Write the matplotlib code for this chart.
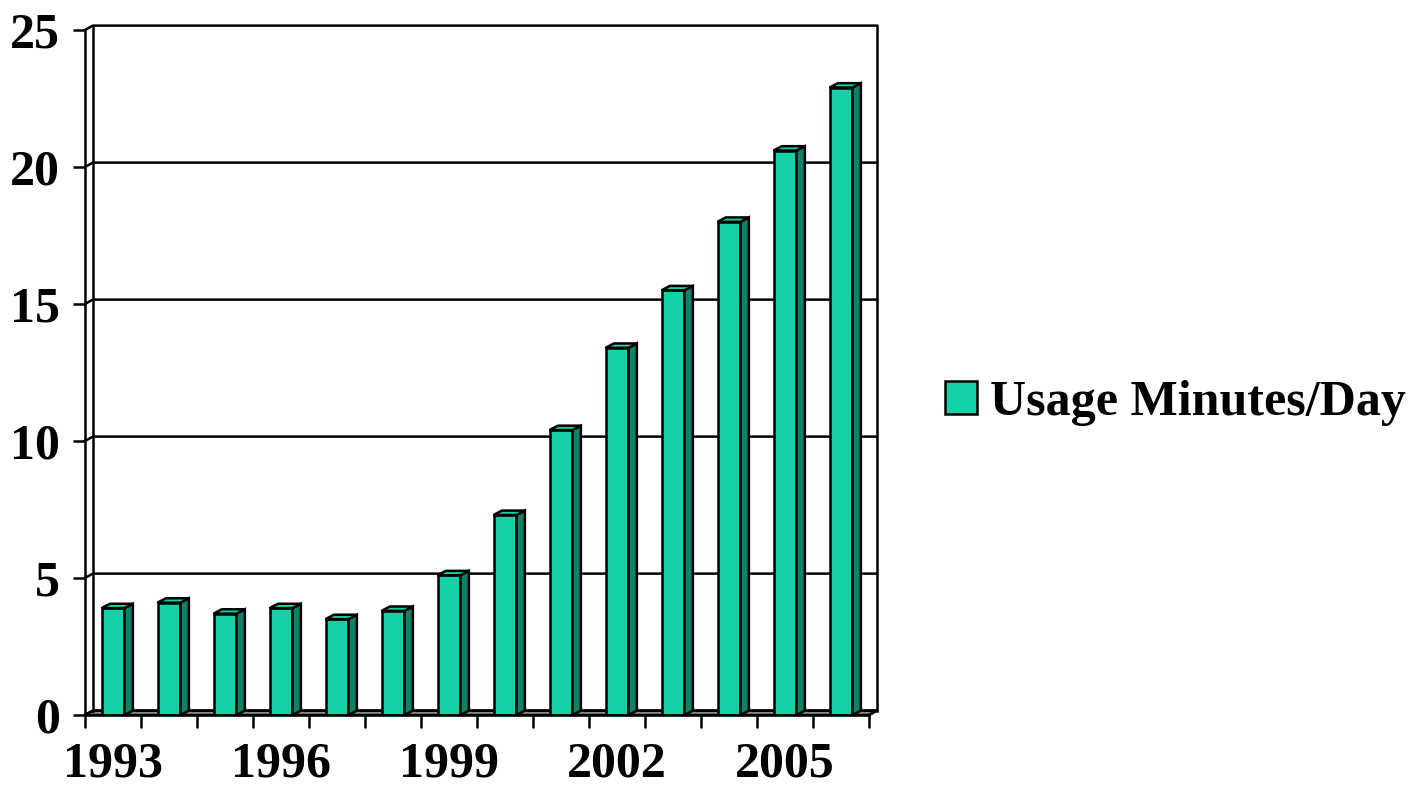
import numpy as np
import matplotlib
matplotlib.use('Agg')
import matplotlib.pyplot as plt
from matplotlib.patches import Polygon

years = [1993, 1994, 1995, 1996, 1997, 1998, 1999, 2000, 2001, 2002, 2003, 2004, 2005, 2006]
minutes = [3.9, 4.1, 3.7, 3.9, 3.5, 3.8, 5.1, 7.3, 10.4, 13.4, 15.5, 18.0, 20.6, 22.9]
label_years = [1993, 1996, 1999, 2002, 2005]
y_ticks = [0, 5, 10, 15, 20, 25]
series_name = 'Usage Minutes/Day'

front_col = '#14d2a6'
side_col = '#13806a'
floor_col = '#8c8c8c'

plt.rcParams['font.family'] = ['Liberation Serif', 'DejaVu Serif']
plt.rcParams['font.weight'] = 'bold'

fig = plt.figure(figsize=(14.14, 7.86), dpi=100)
ax = fig.add_axes([85 / 1414, 1 - 715 / 786, (869 - 85) / 1414, (715 - 30) / 786])

n = len(years)
ymax = 25
ax.set_xlim(0, n)
ax.set_ylim(0, ymax)

# depth of the fake 3d box, in data units
dx = 0.14
dy = 0.16
lw = 1.8

# back walls and floor
ax.add_patch(Polygon([(0, 0), (n, 0), (n + dx, dy), (dx, dy)], closed=True,
                     facecolor=floor_col, edgecolor='black', lw=lw, clip_on=False, zorder=1))
for v in y_ticks:
    ax.plot([0, dx, n + dx], [v, v + dy, v + dy], color='black', lw=lw, clip_on=False, zorder=1)
ax.plot([dx, dx], [dy, ymax + dy], color='black', lw=lw, clip_on=False, zorder=1)
ax.plot([n + dx, n + dx], [dy, ymax + dy], color='black', lw=lw, clip_on=False, zorder=1)
ax.plot([n, n + dx], [0, dy], color='black', lw=lw, clip_on=False, zorder=1)

x = np.arange(n) + 0.5
w = 0.41
sw = 0.15
bars = ax.bar(x, minutes, width=w, color=front_col, edgecolor='black', lw=lw,
              zorder=3, label=series_name)
for xi, h in zip(x, minutes):
    r = xi + w / 2
    l = xi - w / 2
    ax.add_patch(Polygon([(r, 0), (r + sw, dy), (r + sw, h + dy), (r, h)], closed=True,
                         facecolor=side_col, edgecolor='black', lw=lw, zorder=3, clip_on=False))
    ax.add_patch(Polygon([(l, h), (r, h), (r + sw, h + dy), (l + sw, h + dy)], closed=True,
                         facecolor=front_col, edgecolor='black', lw=lw, zorder=3, clip_on=False))

# front axes lines
for s in ['top', 'right']:
    ax.spines[s].set_visible(False)
for s in ['left', 'bottom']:
    ax.spines[s].set_linewidth(lw)
    ax.spines[s].set_zorder(4)

ax.set_yticks(y_ticks)
ax.set_yticklabels([str(v) for v in y_ticks], fontsize=36, fontweight='bold')
ax.tick_params(axis='y', length=9, width=lw, pad=9)

ax.set_xticks(np.arange(n + 1), minor=True)
ax.set_xticks([years.index(yr) + 0.5 for yr in label_years])
ax.set_xticklabels([str(yr) for yr in label_years], fontsize=36, fontweight='bold')
ax.tick_params(axis='x', which='major', length=0, pad=19)
ax.tick_params(axis='x', which='minor', length=9, width=lw)

leg = ax.legend(handles=[bars], loc='center left', bbox_to_anchor=(945 / 1414, 1 - 403 / 786),
                bbox_transform=fig.transFigure, frameon=False,
                handlelength=0.64, handleheight=0.64, handletextpad=0.26, borderpad=0,
                borderaxespad=0, prop={'weight': 'bold', 'size': 36})

fig.savefig('out.png', dpi=100)
